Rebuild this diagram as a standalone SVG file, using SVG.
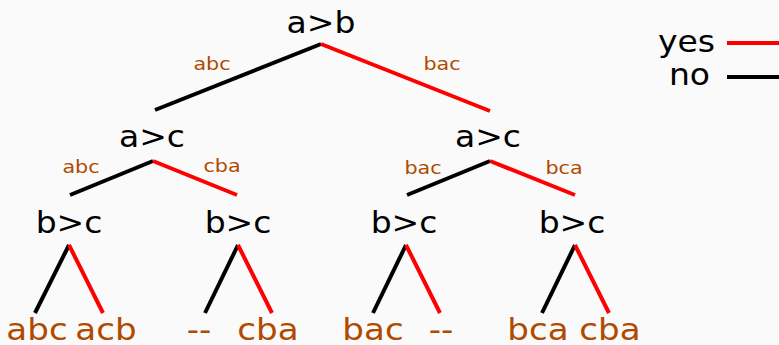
<svg xmlns="http://www.w3.org/2000/svg" width="779" height="345" viewBox="0 0 779 345">
<style>
text{font-family:"DejaVu Sans",sans-serif;text-anchor:middle}
.n{font-size:30px;fill:#000}
.l{font-size:18.5px;fill:#b04a00}
.f{font-size:31px;fill:#b04a00}
.e{text-anchor:end}
.y{stroke:#ff0000;stroke-width:4;fill:none}
.o{stroke:#000;stroke-width:4;fill:none}
</style>
<rect width="779" height="345" fill="#fafafa"/>
<g id="connectors">
<line class="o" x1="321" y1="44" x2="155" y2="110"/>
<line class="y" x1="321" y1="44" x2="490" y2="111"/>
<line class="o" x1="153" y1="161" x2="70" y2="195"/>
<line class="y" x1="153" y1="161" x2="237" y2="195"/>
<line class="o" x1="490" y1="161" x2="407" y2="195"/>
<line class="y" x1="490" y1="161" x2="575" y2="195"/>
<line class="o" x1="69" y1="245" x2="35" y2="313"/>
<line class="y" x1="69" y1="245" x2="103" y2="313"/>
<line class="o" x1="238" y1="245" x2="205" y2="313"/>
<line class="y" x1="238" y1="245" x2="272" y2="313"/>
<line class="o" x1="406" y1="245" x2="373" y2="313"/>
<line class="y" x1="406" y1="245" x2="440" y2="313"/>
<line class="o" x1="575" y1="245" x2="542" y2="313"/>
<line class="y" x1="575" y1="245" x2="609" y2="313"/>
</g>
<g id="labels">
<text class="l" transform="translate(212,70) scale(1.12,1)">abc</text>
<text class="l" transform="translate(442,70) scale(1.12,1)">bac</text>
<text class="l" transform="translate(81,173) scale(1.12,1)">abc</text>
<text class="l" transform="translate(222,172) scale(1.12,1)">cba</text>
<text class="l" transform="translate(423,174) scale(1.12,1)">bac</text>
<text class="l" transform="translate(564,174) scale(1.12,1)">bca</text>
</g>
<g id="root"><text class="n" transform="translate(321,33) scale(1.1,1)">a&gt;b</text></g>
<g id="n_ac_left"><text class="n" transform="translate(152,147) scale(1.1,1)">a&gt;c</text></g>
<g id="n_ac_right"><text class="n" transform="translate(488,147) scale(1.1,1)">a&gt;c</text></g>
<g id="n_bc_1"><text class="n" transform="translate(69,233) scale(1.1,1)">b&gt;c</text></g>
<g id="n_bc_2"><text class="n" transform="translate(238,233) scale(1.1,1)">b&gt;c</text></g>
<g id="n_bc_3"><text class="n" transform="translate(404,233) scale(1.1,1)">b&gt;c</text></g>
<g id="n_bc_4"><text class="n" transform="translate(572,233) scale(1.1,1)">b&gt;c</text></g>
<g id="leaf_abc"><text class="f" transform="translate(37,340) scale(1.1,1)">abc</text></g>
<g id="leaf_acb"><text class="f" transform="translate(106,340) scale(1.1,1)">acb</text></g>
<g id="leaf_dash1"><text class="f" transform="translate(199,340) scale(1.1,1)">--</text></g>
<g id="leaf_cba1"><text class="f" transform="translate(268,340) scale(1.1,1)">cba</text></g>
<g id="leaf_bac"><text class="f" transform="translate(373,340) scale(1.1,1)">bac</text></g>
<g id="leaf_dash2"><text class="f" transform="translate(441,340) scale(1.1,1)">--</text></g>
<g id="leaf_bca"><text class="f" transform="translate(538,340) scale(1.1,1)">bca</text></g>
<g id="leaf_cba2"><text class="f" transform="translate(610,340) scale(1.1,1)">cba</text></g>
<g id="legend">
<text class="n e" transform="translate(715,52) scale(1.1,1)">yes</text>
<text class="n e" transform="translate(710,85) scale(1.1,1)">no</text>
<line class="y" x1="727" y1="43" x2="779" y2="43"/>
<line class="o" x1="727" y1="77" x2="779" y2="77"/>
</g>
</svg>
